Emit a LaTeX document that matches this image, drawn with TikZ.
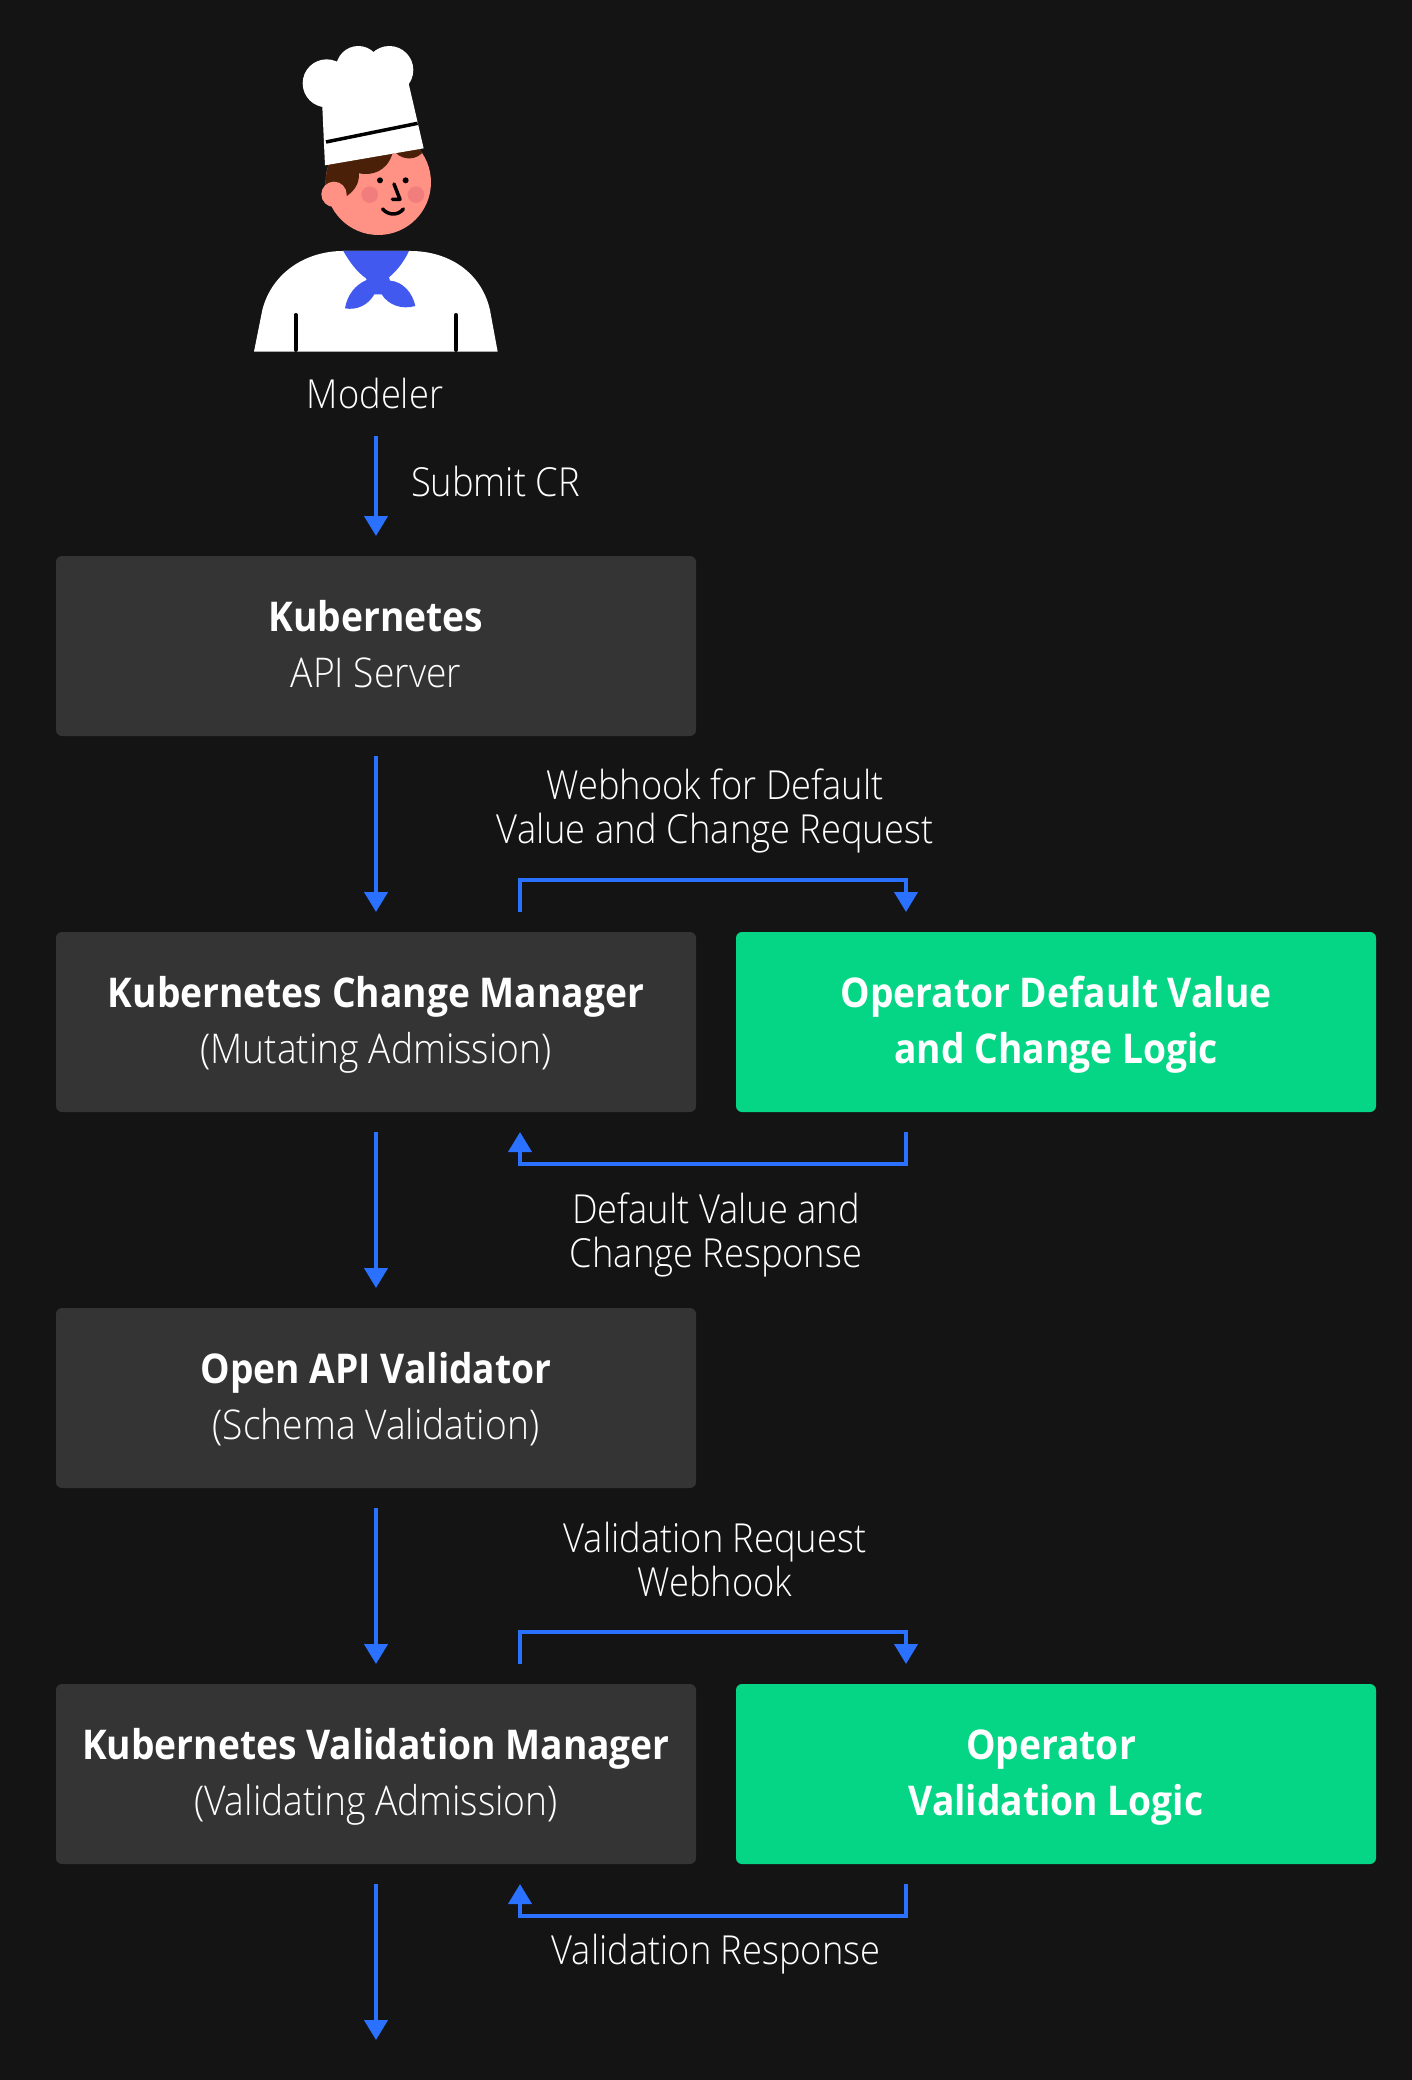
\documentclass[tikz,border=0pt]{standalone}
\usepackage{fontspec}
\setmainfont{Open Sans}[UprightFont=* Light,BoldFont=* Bold,FakeStretch=0.907]
\usetikzlibrary{positioning,calc,arrows.meta}
\definecolor{bgdark}{HTML}{141414}
\definecolor{boxgray}{HTML}{343434}
\definecolor{boxgreen}{HTML}{05D686}
\definecolor{flowblue}{HTML}{2A71FF}
\definecolor{chefhair}{HTML}{4A2008}
\definecolor{chefskin}{HTML}{FF9185}
\definecolor{chefcheek}{HTML}{F27D7D}
\definecolor{chefscarf}{HTML}{4159EE}
\newcommand{\topgap}{\rule{0pt}{44pt}}
\begin{document}
\begin{tikzpicture}[x=1pt,y=1pt]
    \tikzstyle{every node}=[text=white,inner sep=0,outer sep=0]
    \tikzstyle{kbox}=[fill=boxgray,rounded corners=6pt,minimum width=640pt,minimum height=180pt,align=center,font=\fontsize{41}{56}\selectfont,execute at end node=\strut]
    \tikzstyle{logic}=[kbox,fill=boxgreen]
    \tikzstyle{note}=[align=center,font=\fontsize{40}{44}\selectfont]
    \tikzstyle{flow}=[draw=flowblue,line width=4pt,shorten <=20pt,shorten >=20pt,-{Triangle[length=20pt,width=23pt]}]

    \fill[bgdark] (0,0) rectangle (1412,-2080);
    \useasboundingbox (0,0) rectangle (1412,-2080);

    % modeler
    \begin{scope}[shift={(230,-30)},x=0.3333pt,y=-0.3333pt]
        \fill[chefskin] (445,457) circle (158);
        \begin{scope}
            \clip (445,457) circle (158);
            \fill[chefhair] (270,400) -- (600,340) -- (583,362) .. controls (560,392) and (520,392) .. (497,368)
                -- (487,372) .. controls (470,425) and (425,438) .. (387,430)
                .. controls (388,460) and (375,480) .. (352,497) -- (270,480) -- cycle;
        \end{scope}
        \fill[chefskin] (312,493) circle (38);
        \fill[chefcheek] (419,494) circle (25) (558,494) circle (25);
        \fill[black] (450,451) circle (9) (527,451) circle (9);
        \draw[black,line width=3.5pt,line cap=round,line join=round] (492,462) -- (510,508) -- (487,508);
        \draw[black,line width=3.5pt,line cap=round] (458,537) .. controls (475,557) and (505,557) .. (520,537);
        % hat
        \fill[white] (290,160) circle (72) (385,115) circle (67) (478,120) circle (72);
        \fill[white] (274,165) -- (330,90) -- (537,120) -- (537,165) -- (581,355) -- (285,406) -- cycle;
        \draw[black,line width=3.5pt] (288,336) -- (563,280);
        % jacket
        \fill[white] (72,965) -- (97,840) .. controls (125,730) and (225,663) .. (340,663) -- (540,663)
            .. controls (660,663) and (755,730) .. (780,840) -- (803,965) -- cycle;
        \fill[chefscarf] (340,663) -- (537,663) .. controls (520,700) and (497,725) .. (477,742)
            -- (480,752) .. controls (520,755) and (548,790) .. (556,828)
            .. controls (515,840) and (475,825) .. (455,793) -- (433,793)
            .. controls (415,825) and (380,842) .. (345,835)
            .. controls (352,795) and (375,765) .. (410,750) -- (408,745)
            .. controls (380,725) and (358,695) .. (340,663) -- cycle;
        \draw[black,line width=4pt,line cap=round] (197,855) -- (197,960) (678,855) -- (678,960);
    \end{scope}

    \node[kbox] (kubeapi) at (376,-646) {\topgap\textbf{Kubernetes}\\API Server};
    \node[kbox,below=196pt of kubeapi] (changemgr) {\topgap\textbf{Kubernetes Change Manager}\\(Mutating Admission)};
    \node[kbox,below=196pt of changemgr] (openapi) {\topgap\textbf{Open API Validator}\\(Schema Validation)};
    \node[kbox,below=196pt of openapi] (validmgr) {\topgap\textbf{Kubernetes Validation Manager}\\(Validating Admission)};
    \node[logic,right=40pt of changemgr] (changelogic) {\topgap\textbf{Operator Default Value}\\\textbf{and Change Logic}};
    \node[logic,right=40pt of validmgr] (validlogic) {\topgap\textbf{Operator}\rule{10pt}{0pt}\\\textbf{Validation Logic}};

    \node[note] (modeler) at (375,-393) {Modeler};
    \node[note,anchor=west] (submit) at (411,-481) {Submit CR};
    \node[note] (webhook) at (715,-811) {Webhook for Default\\Value and Change Request};
    \node[note] (defresp) at (716,-1235) {Default Value and\\Change Response};
    \node[note] (validreq) at (715,-1559) {Validation Request\\Webhook};
    \node[note] (validresp) at (716,-1954) {Validation Response};

    \coordinate (modelerout) at (376,-416);
    \coordinate (finish) at (376,-2060);
    \coordinate (changeout) at ($(changemgr.north)+(144,0)$);
    \coordinate (changein) at ($(changelogic.north)+(-150,0)$);
    \coordinate (changeback) at ($(changelogic.south)+(-150,0)$);
    \coordinate (changeret) at ($(changemgr.south)+(144,0)$);
    \coordinate (validout) at ($(validmgr.north)+(144,0)$);
    \coordinate (validin) at ($(validlogic.north)+(-150,0)$);
    \coordinate (validback) at ($(validlogic.south)+(-150,0)$);
    \coordinate (validret) at ($(validmgr.south)+(144,0)$);

    \draw[flow] (modelerout) -- (kubeapi);
    \draw[flow] (kubeapi) -- (changemgr);
    \draw[flow] (changemgr) -- (openapi);
    \draw[flow] (openapi) -- (validmgr);
    \draw[flow] (validmgr) -- (finish);

    \draw[flow] (changeout) -- ++(0,52) -| (changein);
    \draw[flow] (changeback) -- ++(0,-52) -| (changeret);
    \draw[flow] (validout) -- ++(0,52) -| (validin);
    \draw[flow] (validback) -- ++(0,-52) -| (validret);
\end{tikzpicture}
\end{document}
